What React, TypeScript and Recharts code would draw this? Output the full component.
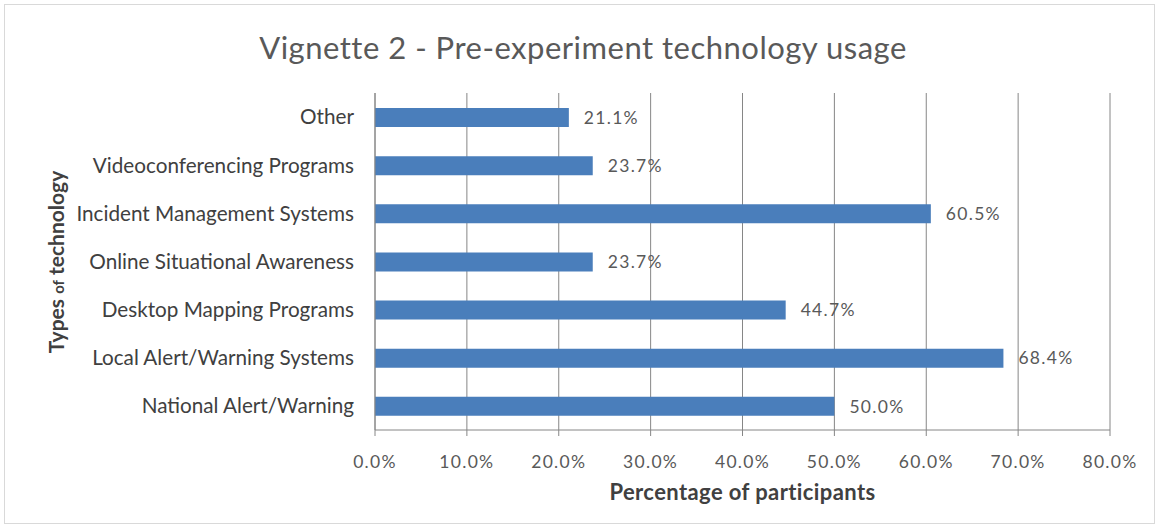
import React from 'react';
import { BarChart, Bar, XAxis, YAxis, CartesianGrid, LabelList, Label } from 'recharts';

const categories = [
  'Other',
  'Videoconferencing Programs',
  'Incident Management Systems',
  'Online Situational Awareness',
  'Desktop Mapping Programs',
  'Local Alert/Warning Systems',
  'National Alert/Warning',
];
const usage = [21.1, 23.7, 60.5, 23.7, 44.7, 68.4, 50.0];
const xTicks = [0, 10, 20, 30, 40, 50, 60, 70, 80];
const bandEdges = [0, 1, 2, 3, 4, 5, 6, 7];

const data = categories.map((name, i) => ({ name, value: usage[i] }));

const FONT = 'Lato, "Open Sans", sans-serif';
const TEXT = '#595959';
const DARK = '#404040';

const App: React.FC = () => {
  return (
    <div
      style={{
        position: 'absolute',
        left: 0,
        top: 0,
        width: 1159,
        height: 527,
        background: '#fff',
        fontFamily: FONT,
      }}
    >
      <div
        style={{
          position: 'absolute',
          left: 4,
          top: 4,
          width: 1149,
          height: 518,
          border: '1px solid #d9d9d9',
        }}
      />
      <div
        style={{
          position: 'absolute',
          left: 0,
          top: 28,
          width: 1166,
          textAlign: 'center',
          fontSize: 31,
          letterSpacing: 0.5,
          color: TEXT,
        }}
      >
        Vignette 2 - Pre-experiment technology usage
      </div>
      <div
        style={{
          position: 'absolute',
          left: 55,
          top: 262,
          transform: 'translate(-50%, -50%) rotate(-90deg)',
          whiteSpace: 'nowrap',
          fontSize: 21,
          fontWeight: 'bold',
          color: DARK,
        }}
      >
        Types <span style={{ fontSize: 15 }}>of</span> technology
      </div>
      <BarChart
        width={1159}
        height={527}
        data={data}
        layout="vertical"
        margin={{ top: 93, right: 49, bottom: 27, left: 0 }}
        style={{ position: 'absolute', left: 0, top: 0 }}
      >
        <CartesianGrid horizontal={false} stroke="#868686" />
        <XAxis
          type="number"
          domain={[0, 80]}
          ticks={xTicks}
          tickFormatter={(v: number) => `${v.toFixed(1)}%`}
          stroke="#868686"
          tickSize={6}
          tickMargin={20}
          height={70}
          tick={{ fill: TEXT, fontSize: 17.5, letterSpacing: 1.3, fontFamily: FONT }}
        >
          <Label
            value="Percentage of participants"
            position="insideBottom"
            offset={0}
            style={{ fill: DARK, fontSize: 22, letterSpacing: 0.4, fontWeight: 'bold', fontFamily: FONT }}
          />
        </XAxis>
        <YAxis
          yAxisId="a"
          type="number"
          domain={[0, 7]}
          ticks={bandEdges}
          width={6}
          tick={false}
          tickSize={6}
          stroke="#868686"
        />
        <YAxis
          yAxisId="b"
          type="category"
          dataKey="name"
          width={369}
          axisLine={false}
          tickLine={false}
          tickMargin={9}
          tick={{ fill: DARK, fontSize: 20.7, fontFamily: FONT }}
        />
        <Bar
          yAxisId="b"
          dataKey="value"
          fill="#4a7ebb"
          barSize={19}
          isAnimationActive={false}
        >
          <LabelList
            dataKey="value"
            position="right"
            offset={15}
            formatter={(v: any) => `${Number(v).toFixed(1)}%`}
            style={{ fill: TEXT, fontSize: 17.5, letterSpacing: 1.3, fontFamily: FONT }}
          />
        </Bar>
      </BarChart>
    </div>
  );
};

export default App;
